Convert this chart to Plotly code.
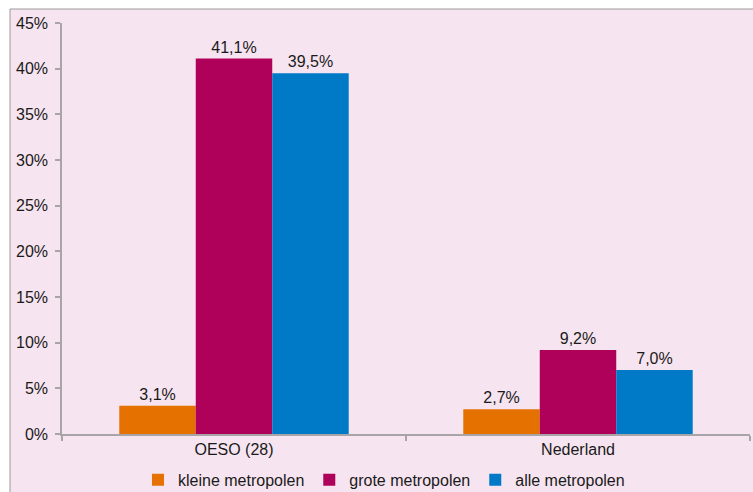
import plotly.graph_objects as go

categories = ["OESO (28)", "Nederland"]
series_names = ["kleine metropolen", "grote metropolen", "alle metropolen"]
kleine = [3.1, 2.7]
grote = [41.1, 9.2]
alle = [39.5, 7.0]
colors = ["#E57200", "#AF005A", "#0079C6"]

W, H = 753, 492
L, R, T, B = 62, 3, 23, 58
pw, ph = W - L - R, H - T - B

font = dict(family="Liberation Sans, Arial, sans-serif", size=16, color="#1a1a1a")

fig = go.Figure()
for name, vals, col in zip(series_names, [kleine, grote, alle], colors):
    fig.add_trace(go.Bar(
        x=categories, y=vals, name=name,
        marker=dict(color=col, line=dict(width=0)),
        text=[f"{v:.1f}%".replace(".", ",") for v in vals],
        textposition="outside", cliponaxis=False,
        textfont=font,
    ))

# pink panel with a thin grey frame
fig.add_shape(type="rect", xref="paper", yref="paper", layer="below",
              x0=(10 - L) / pw, x1=(W + 20 - L) / pw,
              y0=(H - B - (H + 20)) / ph, y1=(H - B - 9) / ph,
              fillcolor="#F6E4F0", line=dict(color="#9A9A9A", width=1))

axis_col = "#A8A4A7"
fig.update_layout(
    width=W, height=H,
    margin=dict(l=L, r=R, t=T, b=B, autoexpand=False),
    paper_bgcolor="white", plot_bgcolor="rgba(0,0,0,0)",
    font=font,
    barmode="group", bargap=0.333, bargroupgap=0,
    showlegend=True,
    legend=dict(orientation="h", x=0.468, xanchor="center", y=-0.07, yanchor="top",
                font=font, bgcolor="rgba(0,0,0,0)", itemwidth=30,
                traceorder="normal"),
    xaxis=dict(showline=True, linecolor=axis_col, linewidth=1.5,
               ticks="outside", tickson="boundaries", ticklen=5,
               tickcolor=axis_col, tickwidth=1.5, showgrid=False,
               tickfont=font, automargin=False),
    yaxis=dict(range=[0, 45], dtick=5, ticksuffix="%",
               showline=True, linecolor=axis_col, linewidth=1.5,
               ticks="outside", ticklen=5, tickcolor=axis_col, tickwidth=1.5,
               showgrid=False, zeroline=False, tickfont=font,
               ticklabelstandoff=4, automargin=False),
)

fig.write_html("out.html")
